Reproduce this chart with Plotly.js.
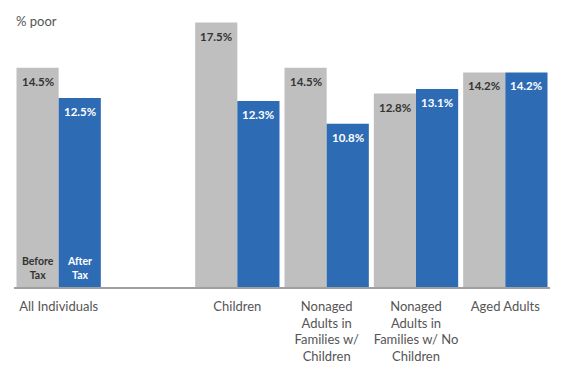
<!DOCTYPE html>
<html><head><meta charset="utf-8">
<script src="https://cdn.plot.ly/plotly-3.0.1.min.js"></script>
<style>body{margin:0;background:#fff}#c{width:566px;height:378px}</style>
</head><body><div id="c"></div>
<script>
const categories = ["All Individuals", "Children", "Nonaged<br>Adults in<br>Families w/<br>Children", "Nonaged<br>Adults in<br>Families w/ No<br>Children", "Aged Adults"];
const positions = [0, 2, 3, 4, 5];
const beforeTax = [14.5, 17.5, 14.5, 12.8, 14.2];
const afterTax = [12.5, 12.3, 10.8, 13.1, 14.2];
const seriesNames = ["Before<br>Tax", "After<br>Tax"];

const GRAY = "#bfbfbf", BLUE = "#2e6bb5";
const W = 0.472;
const FONT = "Lato, 'Open Sans', sans-serif";

const traces = [
  {type: "bar", x: positions, y: beforeTax, width: W, offset: -W, marker: {color: GRAY}, hoverinfo: "none"},
  {type: "bar", x: positions, y: afterTax, width: W, offset: 0, marker: {color: BLUE}, hoverinfo: "none"}
];

const annotations = [];
positions.forEach((p, i) => {
  annotations.push({x: p - W/2, y: beforeTax[i], xref: "x", yref: "y", text: "<b>" + beforeTax[i].toFixed(1) + "%</b>",
    showarrow: false, yanchor: "top", yshift: -5, font: {family: FONT, size: 11.5, color: "#333"}});
  annotations.push({x: p + W/2, y: afterTax[i], xref: "x", yref: "y", text: "<b>" + afterTax[i].toFixed(1) + "%</b>",
    showarrow: false, yanchor: "top", yshift: -5, font: {family: FONT, size: 11.5, color: "#fff"}});
});
annotations.push({x: positions[0] - W/2, y: 0, xref: "x", yref: "y", text: "<b>" + seriesNames[0] + "</b>",
  showarrow: false, yanchor: "bottom", yshift: 4, font: {family: FONT, size: 10.5, color: "#333"}});
annotations.push({x: positions[0] + W/2, y: 0, xref: "x", yref: "y", text: "<b>" + seriesNames[1] + "</b>",
  showarrow: false, yanchor: "bottom", yshift: 4, font: {family: FONT, size: 10.5, color: "#fff"}});
annotations.push({x: 0, y: 1, xref: "paper", yref: "paper", xanchor: "left", yanchor: "middle", yshift: 0,
  text: "% poor", showarrow: false, font: {family: FONT, size: 13, color: "#555"}});

const layout = {
  width: 566, height: 378,
  margin: {l: 14, r: 16, t: 21, b: 91},
  paper_bgcolor: "#fff", plot_bgcolor: "#fff",
  showlegend: false,
  barmode: "overlay",
  xaxis: {range: [-0.5, 5.5], tickvals: positions, ticktext: categories, showgrid: false, zeroline: false,
    showline: true, linecolor: "#a0a0a0", linewidth: 2, ticks: "", ticklabelstandoff: 6,
    tickfont: {family: FONT, size: 13, color: "#555"}, fixedrange: true},
  yaxis: {range: [0, 17.6], visible: false, fixedrange: true},
  annotations: annotations
};
Plotly.newPlot("c", traces, layout, {displayModeBar: false, staticPlot: true});
</script></body></html>
